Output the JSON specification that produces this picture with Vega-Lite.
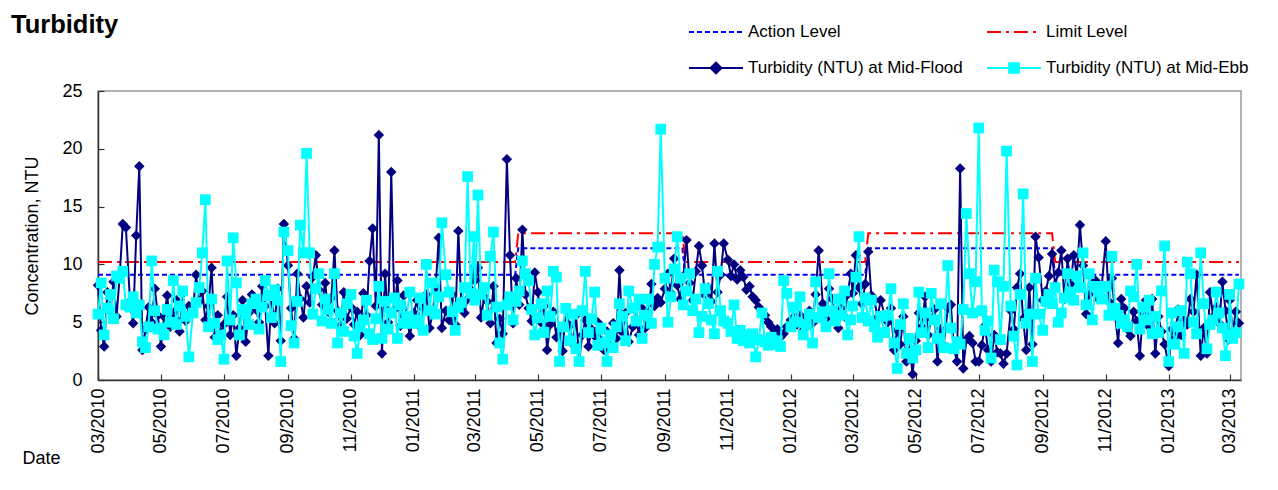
{
"$schema":"https://vega.github.io/schema/vega-lite/v6.json",
"width":1143,"height":289,
"autosize":{"type":"none"},
"padding":{"left":98,"top":91,"right":37,"bottom":110},
"background":"white",
"config":{"font":"Liberation Sans","view":{"stroke":"#999999","strokeWidth":1.5},
"axis":{"labelFont":"Liberation Sans","titleFont":"Liberation Sans","labelColor":"black","titleColor":"black","titleFontWeight":"normal","grid":false,"domainColor":"#333333","domainWidth":1.5,"tickColor":"#333333","tickWidth":1.2,"tickSize":-6,"labelFontSize":18,"titleFontSize":18}},
"title":{"text":"Turbidity","anchor":"start","frame":"group","fontSize":25.5,"fontWeight":"bold","color":"black","font":"Liberation Sans","offset":0,"dx":-87,"dy":15},
"datasets":{
"lv":[{"d":"2010-03-01","s":"a","v":9.1},{"d":"2011-04-09","s":"a","v":9.1},{"d":"2011-04-12","s":"a","v":11.4},{"d":"2011-09-18","s":"a","v":11.4},{"d":"2011-09-21","s":"a","v":9.1},{"d":"2012-03-13","s":"a","v":9.1},{"d":"2012-03-16","s":"a","v":11.4},{"d":"2012-09-10","s":"a","v":11.4},{"d":"2012-09-13","s":"a","v":9.1},{"d":"2013-03-10","s":"a","v":9.1},
{"d":"2010-03-01","s":"l","v":10.2},{"d":"2011-04-09","s":"l","v":10.2},{"d":"2011-04-12","s":"l","v":12.7},{"d":"2011-09-18","s":"l","v":12.7},{"d":"2011-09-21","s":"l","v":10.2},{"d":"2012-03-13","s":"l","v":10.2},{"d":"2012-03-16","s":"l","v":12.7},{"d":"2012-09-10","s":"l","v":12.7},{"d":"2012-09-13","s":"l","v":10.2},{"d":"2013-03-10","s":"l","v":10.2}],
"tb":[
{"d":"2010-03-01","f":8.2,"e":5.7},{"d":"2010-03-04","f":4.3,"e":8.4},{"d":"2010-03-07","f":2.9,"e":3.9},{"d":"2010-03-10","f":7.6,"e":6.2},{"d":"2010-03-13","f":6.0,"e":7.4},{"d":"2010-03-16","f":8.5,"e":5.3},{"d":"2010-03-19","f":5.5,"e":9.0},{"d":"2010-03-22","f":9.0,"e":8.8},{"d":"2010-03-25","f":13.5,"e":9.4},{"d":"2010-03-28","f":13.2,"e":6.5},
{"d":"2010-04-01","f":6.8,"e":6.3},{"d":"2010-04-04","f":4.9,"e":7.2},{"d":"2010-04-07","f":12.5,"e":5.8},{"d":"2010-04-10","f":18.5,"e":6.5},{"d":"2010-04-13","f":2.6,"e":3.3},{"d":"2010-04-16","f":4.4,"e":2.8},{"d":"2010-04-19","f":6.3,"e":4.6},{"d":"2010-04-22","f":5.0,"e":10.3},{"d":"2010-04-25","f":7.9,"e":6.0},{"d":"2010-04-28","f":5.6,"e":4.4},
{"d":"2010-05-01","f":2.9,"e":4.5},{"d":"2010-05-04","f":5.5,"e":3.9},{"d":"2010-05-07","f":7.3,"e":6.1},{"d":"2010-05-10","f":4.6,"e":5.0},{"d":"2010-05-13","f":5.8,"e":8.6},{"d":"2010-05-16","f":6.9,"e":4.8},{"d":"2010-05-19","f":4.2,"e":6.4},{"d":"2010-05-22","f":7.5,"e":7.7},{"d":"2010-05-25","f":5.1,"e":5.5},{"d":"2010-05-28","f":6.4,"e":2.0},
{"d":"2010-06-01","f":6.0,"e":5.8},{"d":"2010-06-04","f":9.1,"e":6.7},{"d":"2010-06-07","f":6.8,"e":8.0},{"d":"2010-06-10","f":7.7,"e":11.0},{"d":"2010-06-13","f":5.2,"e":15.6},{"d":"2010-06-16","f":6.4,"e":4.6},{"d":"2010-06-19","f":9.7,"e":7.0},{"d":"2010-06-22","f":3.7,"e":4.9},{"d":"2010-06-25","f":5.6,"e":3.5},{"d":"2010-06-28","f":4.1,"e":3.9},
{"d":"2010-07-01","f":4.8,"e":1.8},{"d":"2010-07-04","f":7.2,"e":10.3},{"d":"2010-07-07","f":3.9,"e":5.2},{"d":"2010-07-10","f":5.6,"e":12.3},{"d":"2010-07-13","f":2.1,"e":8.4},{"d":"2010-07-16","f":4.5,"e":3.9},{"d":"2010-07-19","f":6.9,"e":6.1},{"d":"2010-07-22","f":3.3,"e":5.7},{"d":"2010-07-25","f":5.8,"e":4.8},{"d":"2010-07-28","f":7.4,"e":6.6},
{"d":"2010-08-01","f":6.1,"e":7.0},{"d":"2010-08-04","f":5.0,"e":4.4},{"d":"2010-08-07","f":8.1,"e":6.3},{"d":"2010-08-10","f":6.4,"e":8.6},{"d":"2010-08-13","f":2.1,"e":7.3},{"d":"2010-08-16","f":7.2,"e":5.4},{"d":"2010-08-19","f":4.9,"e":7.8},{"d":"2010-08-22","f":7.9,"e":6.9},{"d":"2010-08-25","f":3.4,"e":1.6},{"d":"2010-08-28","f":13.5,"e":12.8},
{"d":"2010-09-01","f":9.9,"e":11.2},{"d":"2010-09-04","f":6.2,"e":4.7},{"d":"2010-09-07","f":3.6,"e":3.2},{"d":"2010-09-10","f":9.2,"e":6.8},{"d":"2010-09-13","f":7.0,"e":13.4},{"d":"2010-09-16","f":5.4,"e":11.0},{"d":"2010-09-19","f":8.1,"e":19.6},{"d":"2010-09-22","f":6.7,"e":11.0},{"d":"2010-09-25","f":8.9,"e":5.7},{"d":"2010-09-28","f":10.8,"e":7.9},
{"d":"2010-10-01","f":7.8,"e":9.2},{"d":"2010-10-04","f":6.5,"e":5.1},{"d":"2010-10-07","f":8.4,"e":7.0},{"d":"2010-10-10","f":5.9,"e":6.1},{"d":"2010-10-13","f":7.1,"e":4.9},{"d":"2010-10-16","f":11.2,"e":9.2},{"d":"2010-10-19","f":6.0,"e":3.2},{"d":"2010-10-22","f":4.7,"e":5.8},{"d":"2010-10-25","f":7.6,"e":4.2},{"d":"2010-10-28","f":5.3,"e":6.6},
{"d":"2010-11-01","f":6.3,"e":7.4},{"d":"2010-11-04","f":4.8,"e":3.8},{"d":"2010-11-07","f":5.9,"e":2.3},{"d":"2010-11-10","f":3.9,"e":4.6},{"d":"2010-11-13","f":7.5,"e":5.2},{"d":"2010-11-16","f":5.6,"e":6.9},{"d":"2010-11-19","f":10.3,"e":4.0},{"d":"2010-11-22","f":13.1,"e":3.5},{"d":"2010-11-25","f":6.4,"e":5.3},{"d":"2010-11-28","f":21.2,"e":8.1},
{"d":"2010-12-01","f":2.3,"e":3.6},{"d":"2010-12-04","f":9.2,"e":6.8},{"d":"2010-12-07","f":5.0,"e":4.4},{"d":"2010-12-10","f":18.0,"e":5.8},{"d":"2010-12-13","f":6.1,"e":7.1},{"d":"2010-12-16","f":8.6,"e":3.6},{"d":"2010-12-19","f":4.7,"e":6.5},{"d":"2010-12-22","f":7.3,"e":4.9},{"d":"2010-12-25","f":5.5,"e":5.5},{"d":"2010-12-28","f":3.8,"e":7.6},
{"d":"2011-01-01","f":5.8,"e":4.9},{"d":"2011-01-04","f":6.9,"e":5.2},{"d":"2011-01-07","f":4.6,"e":7.1},{"d":"2011-01-10","f":6.2,"e":4.3},{"d":"2011-01-13","f":7.4,"e":10.0},{"d":"2011-01-16","f":4.5,"e":6.0},{"d":"2011-01-19","f":5.7,"e":8.4},{"d":"2011-01-22","f":8.0,"e":5.7},{"d":"2011-01-25","f":12.3,"e":7.2},{"d":"2011-01-28","f":4.5,"e":13.6},
{"d":"2011-02-01","f":6.0,"e":9.1},{"d":"2011-02-04","f":5.2,"e":7.6},{"d":"2011-02-07","f":7.4,"e":5.9},{"d":"2011-02-10","f":4.8,"e":4.3},{"d":"2011-02-13","f":12.9,"e":6.3},{"d":"2011-02-16","f":6.3,"e":6.7},{"d":"2011-02-19","f":5.8,"e":8.0},{"d":"2011-02-22","f":7.0,"e":17.6},{"d":"2011-02-25","f":7.8,"e":7.5},{"d":"2011-02-28","f":9.7,"e":12.4},
{"d":"2011-03-01","f":8.6,"e":6.9},{"d":"2011-03-04","f":9.7,"e":16.0},{"d":"2011-03-07","f":5.4,"e":7.4},{"d":"2011-03-10","f":7.2,"e":8.0},{"d":"2011-03-13","f":6.8,"e":5.6},{"d":"2011-03-16","f":4.9,"e":10.7},{"d":"2011-03-19","f":8.1,"e":12.8},{"d":"2011-03-22","f":3.2,"e":6.3},{"d":"2011-03-25","f":5.3,"e":3.2},{"d":"2011-03-28","f":4.0,"e":1.8},
{"d":"2011-04-01","f":19.1,"e":6.5},{"d":"2011-04-04","f":10.8,"e":7.2},{"d":"2011-04-07","f":4.9,"e":5.2},{"d":"2011-04-10","f":8.8,"e":6.8},{"d":"2011-04-13","f":6.5,"e":7.7},{"d":"2011-04-16","f":13.0,"e":10.3},{"d":"2011-04-19","f":7.4,"e":9.2},{"d":"2011-04-22","f":6.2,"e":8.6},{"d":"2011-04-25","f":5.1,"e":6.1},{"d":"2011-04-28","f":9.3,"e":3.9},
{"d":"2011-05-01","f":7.6,"e":5.4},{"d":"2011-05-04","f":5.0,"e":6.6},{"d":"2011-05-07","f":6.4,"e":4.1},{"d":"2011-05-10","f":2.6,"e":7.7},{"d":"2011-05-13","f":4.8,"e":5.5},{"d":"2011-05-16","f":5.9,"e":9.4},{"d":"2011-05-19","f":3.7,"e":8.9},{"d":"2011-05-22","f":4.3,"e":1.6},{"d":"2011-05-25","f":2.5,"e":4.6},{"d":"2011-05-28","f":6.0,"e":6.2},
{"d":"2011-06-01","f":4.7,"e":3.4},{"d":"2011-06-04","f":3.1,"e":5.7},{"d":"2011-06-07","f":5.6,"e":2.7},{"d":"2011-06-10","f":1.7,"e":1.6},{"d":"2011-06-13","f":3.9,"e":6.0},{"d":"2011-06-16","f":5.2,"e":9.4},{"d":"2011-06-19","f":2.9,"e":4.1},{"d":"2011-06-22","f":4.4,"e":5.3},{"d":"2011-06-25","f":3.8,"e":7.6},{"d":"2011-06-28","f":5.0,"e":3.0},
{"d":"2011-07-01","f":3.4,"e":4.5},{"d":"2011-07-04","f":2.6,"e":3.2},{"d":"2011-07-07","f":4.2,"e":1.6},{"d":"2011-07-10","f":3.0,"e":3.9},{"d":"2011-07-13","f":4.9,"e":2.8},{"d":"2011-07-16","f":3.6,"e":4.6},{"d":"2011-07-19","f":9.5,"e":6.6},{"d":"2011-07-22","f":4.1,"e":5.5},{"d":"2011-07-25","f":5.8,"e":3.4},{"d":"2011-07-28","f":3.3,"e":7.7},
{"d":"2011-08-01","f":4.6,"e":6.2},{"d":"2011-08-04","f":5.3,"e":5.1},{"d":"2011-08-07","f":3.9,"e":7.0},{"d":"2011-08-10","f":6.2,"e":3.6},{"d":"2011-08-13","f":4.5,"e":5.6},{"d":"2011-08-16","f":5.8,"e":7.0},{"d":"2011-08-19","f":8.3,"e":4.9},{"d":"2011-08-22","f":6.4,"e":10.0},{"d":"2011-08-25","f":7.1,"e":11.5},{"d":"2011-08-28","f":6.7,"e":21.7},
{"d":"2011-09-01","f":7.9,"e":8.8},{"d":"2011-09-04","f":9.2,"e":5.0},{"d":"2011-09-07","f":7.5,"e":7.2},{"d":"2011-09-10","f":10.5,"e":9.6},{"d":"2011-09-13","f":8.2,"e":12.4},{"d":"2011-09-16","f":7.0,"e":8.8},{"d":"2011-09-19","f":9.0,"e":6.5},{"d":"2011-09-22","f":12.1,"e":7.7},{"d":"2011-09-25","f":8.4,"e":9.2},{"d":"2011-09-28","f":6.9,"e":6.0},
{"d":"2011-10-01","f":9.4,"e":7.0},{"d":"2011-10-04","f":11.6,"e":4.1},{"d":"2011-10-07","f":9.9,"e":5.5},{"d":"2011-10-10","f":7.3,"e":7.9},{"d":"2011-10-13","f":8.0,"e":6.6},{"d":"2011-10-16","f":6.8,"e":5.2},{"d":"2011-10-19","f":11.8,"e":4.0},{"d":"2011-10-22","f":7.6,"e":9.4},{"d":"2011-10-25","f":9.1,"e":6.0},{"d":"2011-10-28","f":11.8,"e":5.1},
{"d":"2011-11-01","f":10.4,"e":4.9},{"d":"2011-11-04","f":9.0,"e":4.2},{"d":"2011-11-07","f":10.0,"e":6.5},{"d":"2011-11-10","f":8.7,"e":3.6},{"d":"2011-11-13","f":9.5,"e":4.3},{"d":"2011-11-16","f":8.9,"e":3.4},{"d":"2011-11-19","f":7.8,"e":3.9},{"d":"2011-11-22","f":8.1,"e":3.2},{"d":"2011-11-25","f":7.2,"e":4.0},{"d":"2011-11-28","f":6.9,"e":2.0},
{"d":"2011-12-01","f":6.3,"e":3.5},{"d":"2011-12-04","f":5.9,"e":5.8},{"d":"2011-12-07","f":5.6,"e":3.3},{"d":"2011-12-10","f":5.0,"e":3.0},{"d":"2011-12-13","f":4.6,"e":3.7},{"d":"2011-12-16","f":4.1,"e":3.1},{"d":"2011-12-19","f":4.4,"e":3.4},{"d":"2011-12-22","f":3.7,"e":2.9},{"d":"2011-12-25","f":4.0,"e":8.6},{"d":"2011-12-28","f":4.6,"e":7.5},
{"d":"2012-01-01","f":5.2,"e":4.6},{"d":"2012-01-04","f":6.1,"e":6.3},{"d":"2012-01-07","f":4.8,"e":5.0},{"d":"2012-01-10","f":5.6,"e":7.2},{"d":"2012-01-13","f":4.3,"e":3.9},{"d":"2012-01-16","f":5.4,"e":4.8},{"d":"2012-01-19","f":6.0,"e":5.7},{"d":"2012-01-22","f":4.9,"e":3.2},{"d":"2012-01-25","f":7.4,"e":8.5},{"d":"2012-01-28","f":11.2,"e":5.4},
{"d":"2012-02-01","f":6.6,"e":5.9},{"d":"2012-02-04","f":5.3,"e":4.6},{"d":"2012-02-07","f":7.9,"e":9.2},{"d":"2012-02-10","f":7.0,"e":6.0},{"d":"2012-02-13","f":5.8,"e":5.1},{"d":"2012-02-16","f":4.5,"e":7.0},{"d":"2012-02-19","f":6.2,"e":5.6},{"d":"2012-02-22","f":5.5,"e":7.7},{"d":"2012-02-25","f":7.4,"e":3.9},{"d":"2012-02-28","f":9.2,"e":5.2},
{"d":"2012-03-01","f":7.5,"e":6.4},{"d":"2012-03-04","f":10.8,"e":8.9},{"d":"2012-03-07","f":8.0,"e":12.4},{"d":"2012-03-10","f":6.6,"e":5.4},{"d":"2012-03-13","f":8.3,"e":7.1},{"d":"2012-03-16","f":11.1,"e":5.1},{"d":"2012-03-19","f":7.3,"e":6.9},{"d":"2012-03-22","f":6.9,"e":4.6},{"d":"2012-03-25","f":5.4,"e":3.7},{"d":"2012-03-28","f":6.9,"e":5.5},
{"d":"2012-04-01","f":5.6,"e":4.1},{"d":"2012-04-04","f":5.0,"e":5.6},{"d":"2012-04-07","f":6.2,"e":7.9},{"d":"2012-04-10","f":2.6,"e":3.2},{"d":"2012-04-13","f":4.3,"e":1.0},{"d":"2012-04-16","f":3.1,"e":4.8},{"d":"2012-04-19","f":5.5,"e":6.6},{"d":"2012-04-22","f":1.6,"e":2.3},{"d":"2012-04-25","f":2.8,"e":3.6},{"d":"2012-04-28","f":0.5,"e":1.9},
{"d":"2012-05-01","f":3.4,"e":2.6},{"d":"2012-05-04","f":5.8,"e":7.6},{"d":"2012-05-07","f":4.6,"e":4.1},{"d":"2012-05-10","f":7.2,"e":5.8},{"d":"2012-05-13","f":3.9,"e":2.8},{"d":"2012-05-16","f":5.3,"e":7.5},{"d":"2012-05-19","f":6.1,"e":5.2},{"d":"2012-05-22","f":1.6,"e":3.6},{"d":"2012-05-25","f":4.4,"e":6.6},{"d":"2012-05-28","f":3.0,"e":2.8},
{"d":"2012-06-01","f":6.2,"e":9.9},{"d":"2012-06-04","f":6.5,"e":4.5},{"d":"2012-06-07","f":2.7,"e":2.7},{"d":"2012-06-10","f":1.6,"e":3.3},{"d":"2012-06-13","f":18.3,"e":3.1},{"d":"2012-06-16","f":1.0,"e":6.1},{"d":"2012-06-19","f":3.5,"e":14.4},{"d":"2012-06-22","f":3.8,"e":9.2},{"d":"2012-06-25","f":3.2,"e":5.8},{"d":"2012-06-28","f":1.6,"e":8.5},
{"d":"2012-07-01","f":1.6,"e":21.8},{"d":"2012-07-04","f":3.0,"e":6.0},{"d":"2012-07-07","f":4.7,"e":4.3},{"d":"2012-07-10","f":2.6,"e":5.1},{"d":"2012-07-13","f":1.6,"e":1.9},{"d":"2012-07-16","f":3.9,"e":9.5},{"d":"2012-07-19","f":2.4,"e":8.5},{"d":"2012-07-22","f":2.3,"e":3.5},{"d":"2012-07-25","f":1.4,"e":8.1},{"d":"2012-07-28","f":2.3,"e":19.8},
{"d":"2012-08-01","f":6.0,"e":6.4},{"d":"2012-08-04","f":4.4,"e":3.8},{"d":"2012-08-07","f":8.0,"e":1.3},{"d":"2012-08-10","f":9.2,"e":7.4},{"d":"2012-08-13","f":5.3,"e":16.1},{"d":"2012-08-16","f":2.6,"e":4.9},{"d":"2012-08-19","f":8.0,"e":5.7},{"d":"2012-08-22","f":3.1,"e":1.6},{"d":"2012-08-25","f":12.4,"e":8.8},{"d":"2012-08-28","f":10.6,"e":5.7},
{"d":"2012-09-01","f":6.9,"e":4.3},{"d":"2012-09-04","f":7.7,"e":6.8},{"d":"2012-09-07","f":9.0,"e":7.4},{"d":"2012-09-10","f":10.9,"e":6.6},{"d":"2012-09-13","f":8.2,"e":8.0},{"d":"2012-09-16","f":9.3,"e":5.0},{"d":"2012-09-19","f":11.2,"e":5.8},{"d":"2012-09-22","f":7.0,"e":7.1},{"d":"2012-09-25","f":10.5,"e":9.2},{"d":"2012-09-28","f":8.3,"e":7.6},
{"d":"2012-10-01","f":10.8,"e":6.9},{"d":"2012-10-04","f":9.0,"e":9.0},{"d":"2012-10-07","f":13.4,"e":8.0},{"d":"2012-10-10","f":9.9,"e":11.0},{"d":"2012-10-13","f":5.7,"e":6.5},{"d":"2012-10-16","f":7.4,"e":9.2},{"d":"2012-10-19","f":8.1,"e":5.2},{"d":"2012-10-22","f":8.6,"e":8.1},{"d":"2012-10-25","f":7.0,"e":7.6},{"d":"2012-10-28","f":8.0,"e":7.0},
{"d":"2012-11-01","f":12.0,"e":8.1},{"d":"2012-11-04","f":6.8,"e":5.6},{"d":"2012-11-07","f":8.8,"e":10.7},{"d":"2012-11-10","f":5.6,"e":6.2},{"d":"2012-11-13","f":3.2,"e":5.6},{"d":"2012-11-16","f":7.0,"e":4.9},{"d":"2012-11-19","f":6.2,"e":5.2},{"d":"2012-11-22","f":4.4,"e":4.6},{"d":"2012-11-25","f":3.8,"e":7.7},{"d":"2012-11-28","f":5.9,"e":7.2},
{"d":"2012-12-01","f":5.1,"e":10.0},{"d":"2012-12-04","f":2.1,"e":4.4},{"d":"2012-12-07","f":5.8,"e":6.3},{"d":"2012-12-10","f":6.9,"e":5.2},{"d":"2012-12-13","f":4.6,"e":6.9},{"d":"2012-12-16","f":7.0,"e":4.0},{"d":"2012-12-19","f":2.3,"e":5.5},{"d":"2012-12-22","f":5.5,"e":4.1},{"d":"2012-12-25","f":4.2,"e":7.7},{"d":"2012-12-28","f":3.1,"e":11.6},
{"d":"2013-01-01","f":1.2,"e":1.6},{"d":"2013-01-04","f":4.4,"e":5.8},{"d":"2013-01-07","f":3.6,"e":3.1},{"d":"2013-01-10","f":6.1,"e":4.6},{"d":"2013-01-13","f":3.9,"e":6.0},{"d":"2013-01-16","f":5.2,"e":2.3},{"d":"2013-01-19","f":4.8,"e":10.2},{"d":"2013-01-22","f":7.0,"e":9.2},{"d":"2013-01-25","f":5.9,"e":5.0},{"d":"2013-01-28","f":9.1,"e":4.0},
{"d":"2013-02-01","f":2.1,"e":11.0},{"d":"2013-02-04","f":4.5,"e":6.6},{"d":"2013-02-07","f":2.3,"e":2.7},{"d":"2013-02-10","f":7.6,"e":4.8},{"d":"2013-02-13","f":5.5,"e":5.2},{"d":"2013-02-16","f":6.3,"e":7.6},{"d":"2013-02-19","f":4.9,"e":5.8},{"d":"2013-02-22","f":8.5,"e":4.5},{"d":"2013-02-25","f":6.0,"e":2.1},{"d":"2013-02-28","f":3.5,"e":3.9},
{"d":"2013-03-01","f":6.9,"e":7.4},{"d":"2013-03-04","f":4.2,"e":3.6},{"d":"2013-03-07","f":5.9,"e":4.1},{"d":"2013-03-10","f":4.9,"e":8.3}
]},
"encoding":{"x":{"field":"d","type":"temporal",
"scale":{"type":"utc","domain":[{"year":2010,"month":3,"date":1,"utc":true},{"year":2013,"month":3,"date":12,"utc":true}]},
"axis":{"format":"%m/%Y","labelAngle":-90,"tickCount":{"interval":"month","step":2},"labelFlush":false,"labelOverlap":false,"labelPadding":14,"title":"Date","titleX":-76,"titleY":83,"titleAlign":"left","titleBaseline":"alphabetic","titleAngle":0}}},
"layer":[
{"data":{"name":"lv"},"mark":{"type":"line","strokeWidth":2},
"encoding":{"y":{"field":"v","type":"quantitative","title":"Concentration, NTU","scale":{"domain":[0,25],"nice":false},
"axis":{"values":[0,5,10,15,20,25],"labelPadding":22,"labelFlush":false,"titleX":-66,"titleY":144.5,"titleAngle":-90,"titleAlign":"center","titleBaseline":"middle"}},
"color":{"field":"s","type":"nominal","scale":{"domain":["a","l","f","e"],"range":["#0000FF","#FF0000","#000080","#00FFFF"]},
"legend":{"title":null,"orient":"none","direction":"horizontal","legendX":590,"legendY":-68,"columns":2,"columnPadding":23,"rowPadding":18,"clipHeight":18,"symbolSize":2916,"symbolStrokeWidth":2,"symbolOffset":0,"padding":0,"labelFont":"Liberation Sans","labelFontSize":17,"labelColor":"black","labelLimit":400,"labelOffset":4,
"labelExpr":"datum.value == 'a' ? 'Action Level' : datum.value == 'l' ? 'Limit Level' : datum.value == 'f' ? 'Turbidity (NTU) at Mid-Flood' : 'Turbidity (NTU) at Mid-Ebb'",
"encoding":{"symbols":{
"shape":{"condition":[{"test":"datum.value == 'f'","value":"M-1,0H1M0,-0.2L0.2,0L0,0.2L-0.2,0Z"},{"test":"datum.value == 'e'","value":"M-1,0H1M-0.18,-0.18H0.18V0.18H-0.18Z"}],"value":"stroke"},
"fill":{"condition":[{"test":"datum.value == 'f'","value":"#000080"},{"test":"datum.value == 'e'","value":"#00FFFF"}],"value":"transparent"}}}}},
"strokeDash":{"field":"s","type":"nominal","scale":{"domain":["a","l","f","e"],"range":[[5,3],[14,5,3,5],[1,0],[1,0]]}}}},
{"data":{"name":"tb"},"mark":{"type":"line","color":"#000080","strokeWidth":2},
"encoding":{"y":{"field":"f","type":"quantitative","title":"Concentration, NTU"}}},
{"data":{"name":"tb"},"mark":{"type":"point","shape":"diamond","filled":true,"size":110,"color":"#000080","opacity":1},
"encoding":{"y":{"field":"f","type":"quantitative","title":"Concentration, NTU"}}},
{"data":{"name":"tb"},"mark":{"type":"line","color":"#00FFFF","strokeWidth":2},
"encoding":{"y":{"field":"e","type":"quantitative","title":"Concentration, NTU"}}},
{"data":{"name":"tb"},"mark":{"type":"point","shape":"square","filled":true,"size":115,"color":"#00FFFF","opacity":1},
"encoding":{"y":{"field":"e","type":"quantitative","title":"Concentration, NTU"}}}
]
}
